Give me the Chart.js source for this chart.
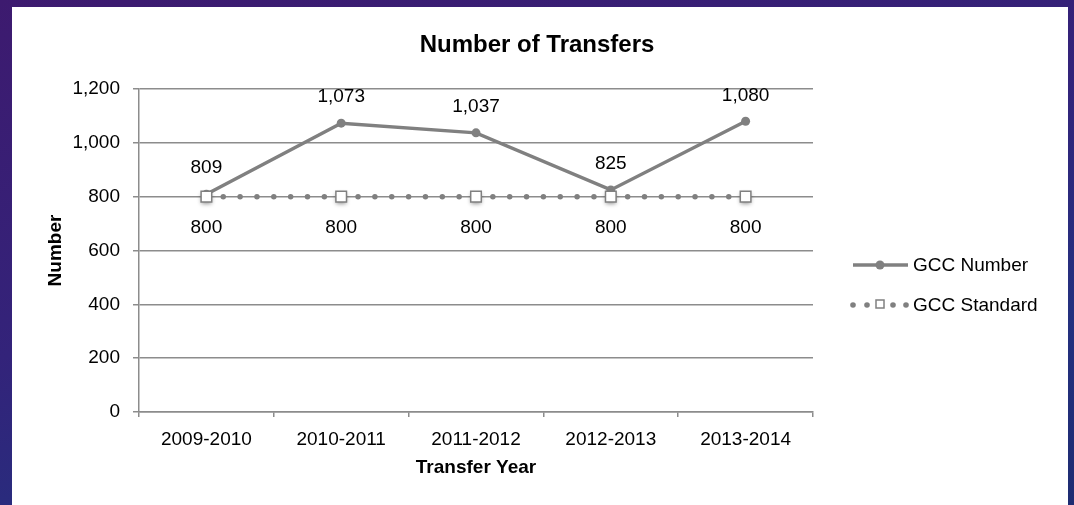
<!DOCTYPE html>
<html lang="en">
<head>
  <meta charset="UTF-8">
  <title>Number of Transfers</title>
  <script src="https://cdn.jsdelivr.net/npm/chart.js@4.4.1/dist/chart.umd.min.js"></script>
  <style>
    html, body { margin: 0; padding: 0; }
    body {
      width: 1074px; height: 505px; overflow: hidden; position: relative;
      background: linear-gradient(165deg, #3d1a6f 0%, #33237a 45%, #24307f 75%, #1e2c72 100%);
    }
    #panel { position: absolute; left: 12px; top: 7px; width: 1056px; height: 498px; background: #fff; }
    #chart { position: absolute; left: 0; top: 0; }
  </style>
</head>
<body>
  <div id="panel"></div>
  <canvas id="chart" width="1074" height="505"></canvas>

  <script>
    // Transfers per academic year vs. the college standard
    const years = ['2009-2010', '2010-2011', '2011-2012', '2012-2013', '2013-2014'];
    const gccNumber = [809, 1073, 1037, 825, 1080];
    const gccStandard = [800, 800, 800, 800, 800];
    const yTicks = { min: 0, max: 1200, step: 200 };
    const chartTitle = 'Number of Transfers';

    const gray = '#808080';
    const gridGray = '#8c8c8c';
    const fontFamily = "'Liberation Sans', Arial, Helvetica, sans-serif";
    Chart.defaults.font.family = fontFamily;
    Chart.defaults.color = '#000';

    // Title centred over the whole white panel, not just the plot
    const panelTitle = {
      id: 'panelTitle',
      afterDraw(chart) {
        const ctx = chart.ctx;
        ctx.save();
        ctx.font = 'bold 24px ' + fontFamily;
        ctx.fillStyle = '#000';
        ctx.textAlign = 'center';
        ctx.textBaseline = 'middle';
        ctx.fillText(chartTitle, 537, 45);
        ctx.restore();
      }
    };

    // Value labels: above the GCC Number points, below the standard squares
    const valueLabels = {
      id: 'valueLabels',
      afterDatasetsDraw(chart) {
        const ctx = chart.ctx;
        ctx.save();
        ctx.font = '19px ' + fontFamily;
        ctx.fillStyle = '#000';
        ctx.textAlign = 'center';
        ctx.textBaseline = 'middle';
        chart.data.datasets.forEach((ds, i) => {
          const shift = i === 0 ? -26 : 31;
          chart.getDatasetMeta(i).data.forEach((pt, j) => {
            ctx.fillText(ds.data[j].toLocaleString('en-US'), pt.x, pt.y + shift);
          });
        });
        ctx.restore();
      }
    };

    // Legend on the right with line + marker icons
    const sideLegend = {
      id: 'sideLegend',
      afterDraw(chart) {
        const ctx = chart.ctx;
        const x0 = 853, x1 = 908, xm = 880;
        const rows = [265, 305];
        ctx.save();
        // GCC Number
        ctx.strokeStyle = gray;
        ctx.lineWidth = 3.5;
        ctx.beginPath();
        ctx.moveTo(x0, rows[0]);
        ctx.lineTo(x1, rows[0]);
        ctx.stroke();
        ctx.fillStyle = gray;
        ctx.beginPath();
        ctx.arc(xm, rows[0], 4.5, 0, Math.PI * 2);
        ctx.fill();
        // GCC Standard
        [853, 867, 893, 906].forEach(x => {
          ctx.beginPath();
          ctx.arc(x, rows[1], 2.8, 0, Math.PI * 2);
          ctx.fill();
        });
        ctx.fillStyle = '#fff';
        ctx.lineWidth = 1.5;
        ctx.fillRect(xm - 4, rows[1] - 5, 8, 8);
        ctx.strokeRect(xm - 4, rows[1] - 5, 8, 8);

        ctx.fillStyle = '#000';
        ctx.font = '19px ' + fontFamily;
        ctx.textAlign = 'left';
        ctx.textBaseline = 'middle';
        chart.data.datasets.forEach((ds, i) => ctx.fillText(ds.label, 913, rows[i] + 1));
        ctx.restore();
      }
    };

    // Soft drop shadow under the standard's square markers
    const squareShadow = {
      id: 'squareShadow',
      beforeDatasetDraw(chart, args) {
        if (args.index !== 1) return;
        const ctx = chart.ctx;
        ctx.save();
        ctx.fillStyle = '#fff';
        ctx.shadowColor = 'rgba(0,0,0,0.45)';
        ctx.shadowBlur = 4;
        ctx.shadowOffsetY = 2;
        args.meta.data.forEach(pt => {
          ctx.fillRect(pt.x - 5, pt.y - 5, 10, 10);
        });
        ctx.restore();
      }
    };

    new Chart(document.getElementById('chart'), {
      type: 'line',
      data: {
        labels: years,
        datasets: [
          {
            label: 'GCC Number',
            data: gccNumber,
            order: 1,
            borderColor: gray,
            borderWidth: 3.5,
            pointRadius: 4.5,
            pointBackgroundColor: gray,
            pointBorderWidth: 0,
            tension: 0
          },
          {
            label: 'GCC Standard',
            data: gccStandard,
            order: 0,
            borderColor: gray,
            borderWidth: 5.5,
            borderDash: [0, 16.85],
            borderCapStyle: 'round',
            pointStyle: 'rect',
            pointRadius: 7.5,
            pointBackgroundColor: '#fff',
            pointBorderColor: gray,
            pointBorderWidth: 1.5,
            tension: 0
          }
        ]
      },
      options: {
        responsive: false,
        animation: false,
        devicePixelRatio: 1,
        layout: { padding: { left: 0, right: 261, top: 89, bottom: 0 } },
        plugins: {
          legend: { display: false },
          tooltip: { enabled: false },
          title: { display: false }
        },
        scales: {
          x: {
            offset: true,
            grid: { offset: true, drawOnChartArea: false, color: gridGray, lineWidth: 1.5, tickLength: 5 },
            border: { color: gridGray, width: 1.5 },
            ticks: { font: { size: 19 }, padding: 11, maxRotation: 0 },
            title: {
              display: true,
              text: 'Transfer Year',
              font: { size: 19, weight: 'bold' },
              padding: { top: 0, bottom: 26 }
            },
            afterFit(scale) { scale.height = 93; }
          },
          y: {
            min: yTicks.min,
            max: yTicks.max,
            grid: { color: gridGray, lineWidth: 1.5, tickLength: 6 },
            border: { color: gridGray, width: 1.5 },
            ticks: { stepSize: yTicks.step, font: { size: 19 }, padding: 13 },
            title: {
              display: true,
              text: 'Number',
              font: { size: 19, weight: 'bold' },
              padding: { top: 44, bottom: 0 }
            },
            afterFit(scale) { scale.width = 139; }
          }
        }
      },
      plugins: [squareShadow, valueLabels, sideLegend, panelTitle]
    });
  </script>
</body>
</html>
